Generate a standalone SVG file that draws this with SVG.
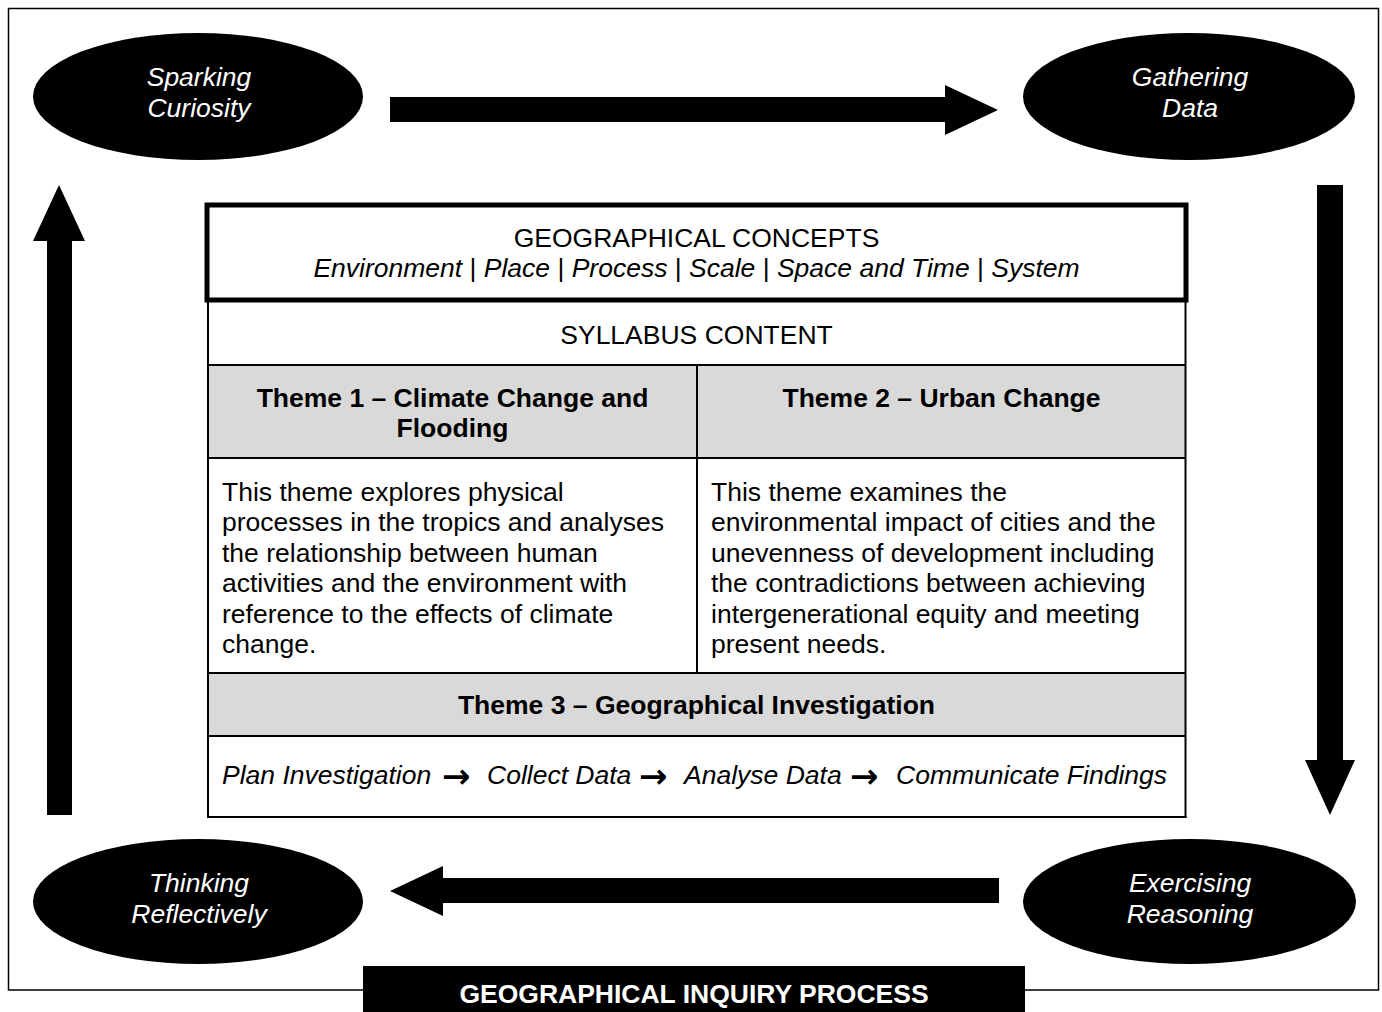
<svg xmlns="http://www.w3.org/2000/svg" width="1382" height="1012" viewBox="0 0 1382 1012">
<style>
  text { font-family: "Liberation Sans", Arial, sans-serif; font-size: 26.5px; fill: #000; }
  .ell { fill: #000; }
  .ellt { fill: #fff; font-style: italic; text-anchor: middle; }
  .mid { text-anchor: middle; }
  .b { font-weight: bold; }
  .i { font-style: italic; }
  .grey { fill: #d9d9d9; }
  .thin { stroke: #000; stroke-width: 2; fill: none; }
  .arrow { fill: #000; }
  .ar { font-family: "DejaVu Sans", sans-serif; font-weight: bold; font-size: 34px; }
</style>
<rect x="0" y="0" width="1382" height="1012" fill="#fff"/>
<rect id="frame" x="8.5" y="8.5" width="1370" height="981.5" fill="none" stroke="#000" stroke-width="1.5"/>

<g id="connectors">
  <polygon class="arrow" points="390,97 945,97 945,85 998,110 945,135 945,122 390,122"/>
  <polygon class="arrow" points="1317,185 1343,185 1343,760 1355,760 1330,815 1305,760 1317,760"/>
  <polygon class="arrow" points="999,878 443,878 443,866 390,891 443,916 443,903 999,903"/>
  <polygon class="arrow" points="47,815 47,241 33,241 59,185 85,241 72,241 72,815"/>
</g>

<g id="node-sparking">
  <ellipse class="ell" cx="198" cy="96.5" rx="165" ry="63.5"/>
  <text class="ellt" x="199" y="85.5">Sparking</text>
  <text class="ellt" x="199" y="116.5">Curiosity</text>
</g>
<g id="node-gathering">
  <ellipse class="ell" cx="1189" cy="96.5" rx="166" ry="63.5"/>
  <text class="ellt" x="1190" y="85.5">Gathering</text>
  <text class="ellt" x="1190" y="116.5">Data</text>
</g>
<g id="node-exercising">
  <ellipse class="ell" cx="1189.5" cy="901.5" rx="166.5" ry="62.5"/>
  <text class="ellt" x="1190" y="891.5">Exercising</text>
  <text class="ellt" x="1190" y="922.5">Reasoning</text>
</g>
<g id="node-thinking">
  <ellipse class="ell" cx="198" cy="901.5" rx="165" ry="62.5"/>
  <text class="ellt" x="199" y="891.5">Thinking</text>
  <text class="ellt" x="199" y="922.5">Reflectively</text>
</g>

<g id="node-table">
  <rect class="grey" x="208" y="365" width="978" height="93"/>
  <rect class="grey" x="208" y="673" width="978" height="63"/>
  <line class="thin" x1="208" y1="300" x2="208" y2="818"/>
  <line class="thin" x1="1185.5" y1="300" x2="1185.5" y2="818"/>
  <line class="thin" x1="208" y1="365" x2="1186" y2="365"/>
  <line class="thin" x1="208" y1="458" x2="1186" y2="458"/>
  <line class="thin" x1="697" y1="365" x2="697" y2="673"/>
  <line class="thin" x1="208" y1="673" x2="1186" y2="673"/>
  <line class="thin" x1="208" y1="736" x2="1186" y2="736"/>
  <line class="thin" x1="207" y1="817" x2="1186.5" y2="817"/>
  <rect x="207" y="205" width="979" height="95" fill="#fff" stroke="#000" stroke-width="5"/>

  <text class="mid" x="696.5" y="246.5">GEOGRAPHICAL CONCEPTS</text>
  <text class="mid i" x="696.5" y="277"><tspan>Environment</tspan><tspan font-style="normal"> | </tspan><tspan>Place</tspan><tspan font-style="normal"> | </tspan><tspan>Process</tspan><tspan font-style="normal"> | </tspan><tspan>Scale</tspan><tspan font-style="normal"> | </tspan><tspan>Space and Time</tspan><tspan font-style="normal"> | </tspan><tspan>System</tspan></text>
  <text class="mid" x="696.5" y="343.5">SYLLABUS CONTENT</text>

  <text class="mid b" x="452.5" y="406.5">Theme 1 – Climate Change and</text>
  <text class="mid b" x="452.5" y="437">Flooding</text>
  <text class="mid b" x="941.5" y="406.5">Theme 2 – Urban Change</text>

  <text x="222" y="500.5">This theme explores physical</text>
  <text x="222" y="531">processes in the tropics and analyses</text>
  <text x="222" y="561.5">the relationship between human</text>
  <text x="222" y="592">activities and the environment with</text>
  <text x="222" y="622.5">reference to the effects of climate</text>
  <text x="222" y="653">change.</text>

  <text x="711" y="500.5">This theme examines the</text>
  <text x="711" y="531">environmental impact of cities and the</text>
  <text x="711" y="561.5">unevenness of development including</text>
  <text x="711" y="592">the contradictions between achieving</text>
  <text x="711" y="622.5">intergenerational equity and meeting</text>
  <text x="711" y="653">present needs.</text>

  <text class="mid b" x="696.5" y="714">Theme 3 – Geographical Investigation</text>

  <text class="i" x="222" y="784">Plan Investigation</text>
  <text class="ar" x="442" y="788">→</text>
  <text class="i" x="487" y="784">Collect Data</text>
  <text class="ar" x="639" y="788">→</text>
  <text class="i" x="684" y="784">Analyse Data</text>
  <text class="ar" x="850" y="788">→</text>
  <text class="i" x="896" y="784">Communicate Findings</text>
</g>

<g id="node-inquiry-label">
  <rect x="363" y="966" width="662" height="46" fill="#000"/>
  <text class="mid b" x="694" y="1002.5" style="fill:#fff">GEOGRAPHICAL INQUIRY PROCESS</text>
</g>
</svg>
